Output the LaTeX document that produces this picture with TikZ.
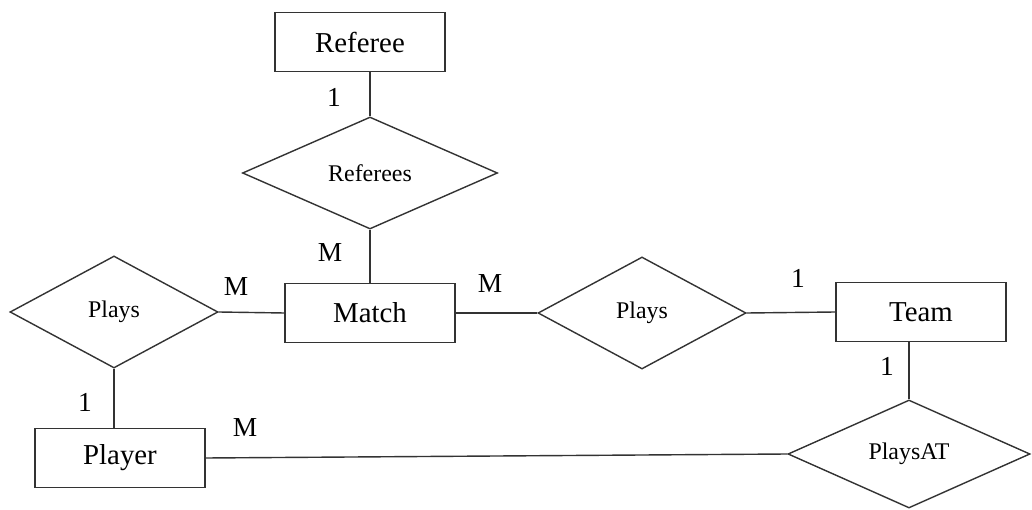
\documentclass[tikz,border=0pt]{standalone}
\usepackage{fontspec}
\setmainfont{Liberation Serif}
\usetikzlibrary{shapes.geometric}

\begin{document}
\begin{tikzpicture}[x=0.025cm, y=-0.025cm,
  line width=1pt, draw=black!80,
  entity/.style={draw, rectangle, minimum width=4.25cm, minimum height=1.475cm,
    inner sep=0pt, font={\fontsize{20.5}{20.5}\selectfont}},
  relation/.style={draw, diamond, inner sep=0pt, aspect=2,
    font={\fontsize{17}{17}\selectfont}},
  card/.style={inner sep=0pt, font={\fontsize{19.5}{19.5}\selectfont}}]

\useasboundingbox (0,0) rectangle (1032,510);

% entities
\node [entity] (referee) at (360, 42) {Referee};
\node [entity] (match)   at (370, 313) {Match};
\node [entity] (player)  at (120, 458) {Player};
\node [entity] (team)    at (921, 312) {Team};

% relationships
\node [relation, minimum width=6.375cm, minimum height=2.8cm] (referees) at (370, 173) {Referees};
\node [relation, minimum width=5.2cm, minimum height=2.8cm] (plays-l)  at (114, 312) {Plays};
\node [relation, minimum width=5.2cm, minimum height=2.8cm] (plays-m)  at (642, 313) {Plays};
\node [relation, minimum width=6.05cm, minimum height=2.7cm] (playsat)  at (909, 454) {PlaysAT};

% links
\draw (referees.north) -- (referees.north |- referee.south);
\draw (referees.south) -- (match.north);
\draw (plays-l.east) -- (match.west);
\draw (plays-l.south) -- (plays-l.south |- player.north);
\draw (match.east) -- (plays-m.west);
\draw (plays-m.east) -- (team.west);
\draw (playsat.north) -- (playsat.north |- team.south);
\draw (player.east) -- (playsat.west);

% cardinalities
\node [card] (c-referee)  at (334, 97)  {1};
\node [card] (c-match-t)  at (330, 253) {M};
\node [card] (c-match-l)  at (236, 287) {M};
\node [card] (c-player-t) at (85, 402)  {1};
\node [card] (c-player-r) at (245, 428) {M};
\node [card] (c-match-r)  at (490, 284) {M};
\node [card] (c-team-l)   at (798, 278) {1};
\node [card] (c-team-b)   at (887, 366) {1};

\end{tikzpicture}
\end{document}
